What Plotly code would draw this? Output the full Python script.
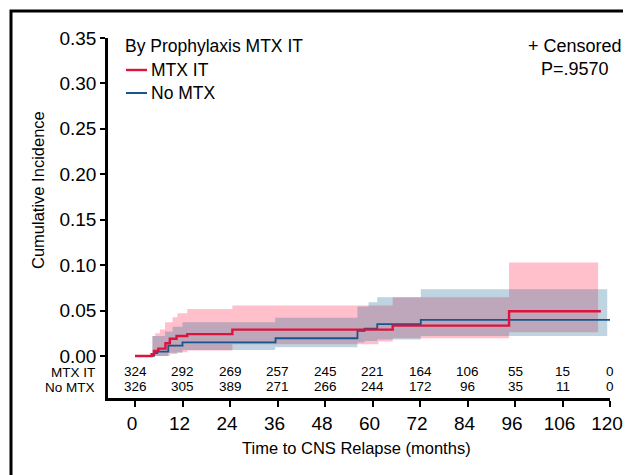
import plotly.graph_objects as go

# ---- data ----
mtx_t = [0, 4.2, 4.8, 5.9, 7.7, 8.8, 10.5, 13.2, 24.6, 65.1, 94.5, 117.7]
mtx_ci = [0, 0.002, 0.0055, 0.008, 0.014, 0.019, 0.022, 0.024, 0.029, 0.0334, 0.0492, 0.0492]

nomtx_t = [0, 4.8, 5.6, 8.4, 12.0, 35.5, 56.2, 58.0, 61.2, 72.2, 120]
nomtx_ci = [0, 0.003, 0.0047, 0.0113, 0.015, 0.0195, 0.0275, 0.030, 0.035, 0.0396, 0.0396]

mtx_band_t = [4.4, 5.1, 6.3, 7.6, 8.8, 9.5, 10.7, 13.2, 24.6, 61.5, 65.1, 94.5, 117.0]
mtx_upper = [0.022, 0.025, 0.029, 0.037, 0.037, 0.0426, 0.047, 0.0518, 0.0555, 0.0555, 0.0646, 0.1028, 0.1028]
mtx_lower = [0, 0, 0, 0, 0.002, 0.002, 0.004, 0.006, 0.013, 0.016, 0.0195, 0.026, 0.026]

nomtx_band_t = [4.4, 7.6, 8.4, 9.5, 12.0, 35.4, 56.2, 58.0, 59.0, 61.2, 72.2, 119.3]
nomtx_upper = [0.022, 0.027, 0.027, 0.032, 0.037, 0.042, 0.0545, 0.0545, 0.059, 0.0646, 0.0735, 0.0735]
nomtx_lower = [0, 0, 0.0036, 0.0036, 0.0066, 0.0096, 0.0147, 0.0165, 0.0165, 0.018, 0.022, 0.022]

risk_times = [0, 12, 24, 36, 48, 60, 72, 84, 96, 108, 120]
mtx_risk = [324, 292, 269, 257, 245, 221, 164, 106, 55, 15, 0]
nomtx_risk = [326, 305, 389, 271, 266, 244, 172, 96, 35, 11, 0]

x_tickvals = [0, 12, 24, 36, 48, 60, 72, 84, 96, 108, 120]
x_ticktext = ["0", "12", "24", "36", "48", "60", "72", "84", "96", "106", "120"]
y_tickvals = [0, 0.05, 0.10, 0.15, 0.20, 0.25, 0.30, 0.35]
y_ticktext = ["0.00", "0.05", "0.10", "0.15", "0.20", "0.25", "0.30", "0.35"]

RED = "rgb(220,20,60)"
BLUE = "rgb(25,85,140)"
PINK_FILL = "rgba(255,98,125,0.40)"
BLUE_FILL = "rgba(15,96,144,0.27)"
FONT = "Liberation Sans, Arial, Helvetica, sans-serif"

# page body has an 8px margin: plot area lands at page x 108..610, y 38..398
ML, MT = 100, 30
PW, PH = 502, 360

fig = go.Figure()

# pink band (MTX IT)
fig.add_trace(go.Scatter(x=mtx_band_t, y=mtx_lower, mode="lines", line=dict(width=0, shape="hv"),
                         hoverinfo="skip", showlegend=False))
fig.add_trace(go.Scatter(x=mtx_band_t, y=mtx_upper, mode="lines", line=dict(width=0, shape="hv"),
                         fill="tonexty", fillcolor=PINK_FILL, hoverinfo="skip", showlegend=False))
# blue band (No MTX)
fig.add_trace(go.Scatter(x=nomtx_band_t, y=nomtx_lower, mode="lines", line=dict(width=0, shape="hv"),
                         hoverinfo="skip", showlegend=False))
fig.add_trace(go.Scatter(x=nomtx_band_t, y=nomtx_upper, mode="lines", line=dict(width=0, shape="hv"),
                         fill="tonexty", fillcolor=BLUE_FILL, hoverinfo="skip", showlegend=False))

# curves
fig.add_trace(go.Scatter(x=nomtx_t, y=nomtx_ci, mode="lines", line=dict(color=BLUE, width=1.8, shape="hv"),
                         name="No MTX", showlegend=False))
fig.add_trace(go.Scatter(x=mtx_t, y=mtx_ci, mode="lines", line=dict(color=RED, width=2.4, shape="hv"),
                         name="MTX IT", showlegend=False))


def px_x(p):
    return (p - 108) / PW


def px_y(p):
    return (398 - p) / PH


ROW1, ROW2 = -0.0168, -0.0336
LAB1, LAB2 = -0.0182, -0.0352

annotations = []
# at-risk numbers
for t, a, b in zip(risk_times, mtx_risk, nomtx_risk):
    annotations.append(dict(x=t, y=ROW1, xref="x", yref="y", text=str(a), showarrow=False,
                            font=dict(family=FONT, size=13.5, color="black"), xanchor="center", yanchor="middle"))
    annotations.append(dict(x=t, y=ROW2, xref="x", yref="y", text=str(b), showarrow=False,
                            font=dict(family=FONT, size=13.5, color="black"), xanchor="center", yanchor="middle"))
annotations.append(dict(x=px_x(97), y=LAB1, xref="paper", yref="y", text="MTX IT", showarrow=False,
                        font=dict(family=FONT, size=13.5, color="black"), xanchor="right", yanchor="middle"))
annotations.append(dict(x=px_x(97), y=LAB2, xref="paper", yref="y", text="No MTX", showarrow=False,
                        font=dict(family=FONT, size=13.5, color="black"), xanchor="right", yanchor="middle"))

# legend text
annotations.append(dict(x=px_x(123), y=px_y(46), xref="paper", yref="paper", text="By Prophylaxis MTX IT",
                        showarrow=False, font=dict(family=FONT, size=17.5, color="black"),
                        xanchor="left", yanchor="middle"))
annotations.append(dict(x=px_x(149), y=px_y(70), xref="paper", yref="paper", text="MTX IT",
                        showarrow=False, font=dict(family=FONT, size=17.5, color="black"),
                        xanchor="left", yanchor="middle"))
annotations.append(dict(x=px_x(149), y=px_y(93), xref="paper", yref="paper", text="No MTX",
                        showarrow=False, font=dict(family=FONT, size=17.5, color="black"),
                        xanchor="left", yanchor="middle"))
annotations.append(dict(x=px_x(575), y=px_y(46), xref="paper", yref="paper", text="+ Censored",
                        showarrow=False, font=dict(family=FONT, size=18, color="black"),
                        xanchor="center", yanchor="middle"))
annotations.append(dict(x=px_x(575), y=px_y(69), xref="paper", yref="paper", text="P=.9570",
                        showarrow=False, font=dict(family=FONT, size=18, color="black"),
                        xanchor="center", yanchor="middle"))
# axis titles
annotations.append(dict(x=px_x(38), y=px_y(190), xref="paper", yref="paper",
                        text="Cumulative Incidence", textangle=-90, showarrow=False,
                        font=dict(family=FONT, size=16.5, color="black"),
                        xanchor="center", yanchor="middle"))
annotations.append(dict(x=px_x(356), y=px_y(448), xref="paper", yref="paper",
                        text="Time to CNS Relapse (months)", showarrow=False,
                        font=dict(family=FONT, size=16.5, color="black"),
                        xanchor="center", yanchor="middle"))

shapes = [
    dict(type="line", xref="paper", yref="paper", x0=px_x(126), x1=px_x(147), y0=px_y(70), y1=px_y(70),
         line=dict(color=RED, width=2.4)),
    dict(type="line", xref="paper", yref="paper", x0=px_x(126), x1=px_x(147), y0=px_y(93), y1=px_y(93),
         line=dict(color=BLUE, width=2)),
    dict(type="rect", xref="paper", yref="paper", x0=px_x(11), x1=1.3, y0=-0.5, y1=px_y(11),
         line=dict(color="black", width=3)),
]

fig.update_layout(
    width=631, height=475,
    margin=dict(l=ML, r=631 - ML - PW, t=MT, b=475 - MT - PH, pad=0),
    paper_bgcolor="white", plot_bgcolor="white",
    showlegend=False,
    font=dict(family=FONT, color="black"),
    xaxis=dict(range=[-6.82, 120], tickvals=x_tickvals, ticktext=x_ticktext,
               showline=True, linecolor="black", linewidth=2.5, ticks="outside", ticklen=6,
               tickwidth=2, tickcolor="black", showgrid=False, zeroline=False,
               ticklabelshift=-3,
               tickfont=dict(family=FONT, size=19, color="black")),
    yaxis=dict(range=[-0.0463, 0.35], tickvals=y_tickvals, ticktext=y_ticktext,
               showline=True, linecolor="black", linewidth=2.5, ticks="outside", ticklen=5,
               tickwidth=2, tickcolor="black", showgrid=False, zeroline=False,
               tickfont=dict(family=FONT, size=19, color="black")),
    annotations=annotations,
    shapes=shapes,
)

fig.write_html("out.html")
